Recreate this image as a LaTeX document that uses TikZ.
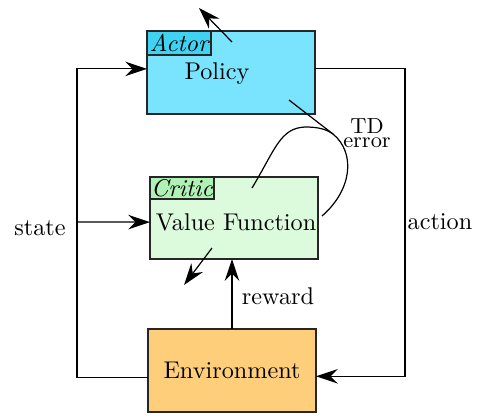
\documentclass[tikz,border=0pt]{standalone}
\usepackage{amsmath,amssymb}
\usetikzlibrary{arrows.meta}
\definecolor{actorfill}{HTML}{7AE4FF}
\definecolor{actortag}{HTML}{40D2F2}
\definecolor{criticfill}{HTML}{DCFADC}
\definecolor{critictag}{HTML}{B0F2B6}
\definecolor{envfill}{HTML}{FFCE7A}
\begin{document}
\begin{tikzpicture}[x=0.413pt,y=-0.413pt,line width=0.5pt,
  block/.style={draw=black!85,inner sep=0pt,outer sep=0pt,minimum width=69.4pt,minimum height=34.3pt},
  tag/.style={draw=black!85,inner sep=0.3pt,outer sep=0pt,minimum width=26.4pt,minimum height=9.9pt,anchor=north west,font=\itshape},
  conn/.style={-{Stealth[length=9pt,width=6pt,inset=3pt]}}]
\useasboundingbox (0,0) rectangle (479,417);
% the three blocks
\node[block,fill=actorfill] (actor) at (231,72.5) {};
\node[tag,fill=actortag] (actortag) at (actor.north west) {Actor};
\node (policy) at (217,74) {Policy};
\node[block,fill=criticfill,minimum height=33.9pt] (critic) at (234,218) {};
\node[tag,fill=critictag,minimum height=9.1pt] (critictag) at (critic.north west) {Critic};
\node (value) at (236,222) {Value Function};
\node[block,fill=envfill] (env) at (232,370.5) {Environment};
% state
\coordinate (sx) at (77,222);
\draw[conn] ([yshift=-3pt]env.west) -| (sx) |- ([yshift=1.5pt]actor.west);
\draw[conn] (sx) -- ([yshift=-1.7pt]critic.west);
\node (state) at (40,228) {state};
% action
\coordinate (ax) at (405,222);
\draw[conn] ([yshift=1.5pt]actor.east) -| (ax) |- ([yshift=-2.4pt]env.east);
\node (action) at (440,222) {action};
% reward
\draw[conn] (env.north) -- (env.north |- critic.south);
\node (reward) at (278,296) {reward};
% outputs of actor and critic
\coordinate (aout) at (199,8);
\coordinate (cout) at (184,285);
\draw[conn] (232,42) -- (aout);
\draw[conn] (212,248) -- (cout);
% TD error
\coordinate (tdjoin) at (333,134);
\draw (289,100) -- (tdjoin) .. controls (356,153) and (352,190) .. (322,216);
\draw (252,188) .. controls (275,150) and (280,128) .. (305,127) .. controls (318,127) and (326,129) .. (tdjoin);
\node[font=\small,align=center,inner sep=0pt] (tderr) at (367,133) {TD\\[-5pt]error};
\end{tikzpicture}
\end{document}
